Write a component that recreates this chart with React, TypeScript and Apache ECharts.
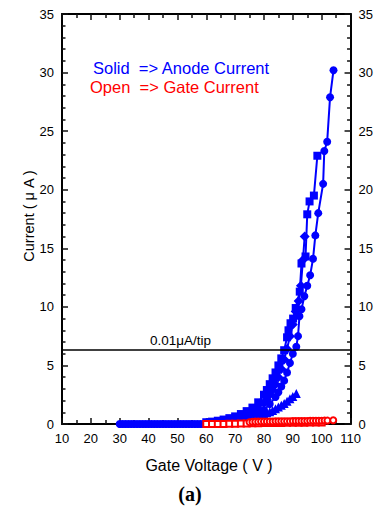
import React, { useEffect, useRef } from "react";
import * as echarts from "echarts";

// Anode current (solid markers), μA vs gate voltage (V)
const circleV = [30, 31, 32, 33, 34, 35, 36, 37, 38, 39, 40, 41, 42, 43, 44, 45, 46, 47, 48, 49, 50, 51, 52, 53, 54, 55, 56, 57, 58, 59, 60, 62, 64, 66, 68, 70, 72, 74, 76, 78, 80, 82, 84, 85, 86, 87, 88, 89, 90, 91.2, 91.8, 92.3, 93, 94, 95, 96, 97, 97.8, 98.8, 100.5, 100.9, 101.9, 102.9, 104.1];
const circleI = [0, 0, 0, 0, 0, 0, 0, 0, 0, 0, 0, 0, 0, 0, 0, 0, 0, 0, 0, 0, 0, 0, 0, 0, 0, 0, 0, 0, 0, 0, 0.03, 0.05, 0.08, 0.12, 0.17, 0.24, 0.34, 0.46, 0.64, 0.88, 1.2, 1.7, 2.3, 2.7, 3.2, 3.7, 4.4, 5.2, 6.0, 6.6, 7.5, 9.2, 9.8, 10.9, 11.8, 12.7, 14.1, 16.1, 18.0, 20.5, 23.3, 24.1, 27.9, 30.2];

const squareV = [60, 62, 64, 66, 68, 70, 72, 74, 76, 78, 80, 81, 82, 83, 84, 85, 86, 87, 88, 88.5, 89.2, 90.1, 91, 92.4, 93.0, 94.4, 95.0, 95.8, 97.3, 98.5];
const squareI = [0.15, 0.2, 0.28, 0.38, 0.5, 0.65, 0.85, 1.1, 1.4, 1.85, 2.5, 2.9, 3.4, 3.9, 4.4, 5.0, 5.6, 6.3, 7.4, 8.0, 8.6, 9.0, 9.9, 11.3, 13.7, 14.3, 17.9, 19.0, 19.5, 22.9];

const diamondV = [60, 62, 64, 66, 68, 70, 72, 74, 76, 78, 80, 81, 82, 83, 84, 85, 86, 87, 88, 89, 90, 91, 92, 92.8, 93.5, 94.1];
const diamondI = [0.08, 0.11, 0.16, 0.22, 0.3, 0.4, 0.54, 0.72, 0.96, 1.3, 1.8, 2.1, 2.5, 2.9, 3.4, 4.0, 4.7, 5.5, 6.4, 7.5, 8.5, 9.6, 10.5, 11.8, 14.0, 16.0];

const triangleV = [72, 74, 76, 77.6, 79, 80, 81, 82, 83, 84, 85, 86, 87, 88, 89, 90, 91.2];
const triangleI = [0.2, 0.3, 0.45, 0.6, 0.75, 0.85, 0.95, 1.05, 1.15, 1.3, 1.45, 1.6, 1.75, 1.95, 2.15, 2.35, 2.6];

// Gate current (open markers), μA
const gateCircleV = [75, 76, 77, 78, 79, 80, 81, 82, 83, 84, 85, 86, 87, 88, 89, 90, 91, 92, 93, 94, 95, 96, 97, 98, 99, 100, 101, 102, 104];
const gateCircleI = [0.15, 0.18, 0.2, 0.2, 0.21, 0.21, 0.22, 0.22, 0.22, 0.23, 0.23, 0.23, 0.24, 0.24, 0.24, 0.25, 0.25, 0.25, 0.26, 0.26, 0.26, 0.27, 0.27, 0.27, 0.28, 0.28, 0.29, 0.29, 0.32];
const gateSquareV = [60, 62, 64, 66, 68, 70, 72, 74, 76, 78, 80, 82, 84, 86, 88, 90, 92, 94, 96, 98, 100];
const gateSquareI = [0, 0, 0.01, 0.01, 0.02, 0.03, 0.04, 0.05, 0.06, 0.07, 0.08, 0.08, 0.09, 0.09, 0.1, 0.1, 0.11, 0.11, 0.12, 0.12, 0.13];

const thresholdI = 6.3;

const pairs = (xs: number[], ys: number[]) => xs.map((x, i) => [x, ys[i]]);

const BLUE = "#0000ff";
const RED = "#ff0000";
const INK = "#111111";
const FONT = "Liberation Sans";

const makeX = (position: "top" | "bottom", showLabel: boolean) => ({
  type: "value",
  position,
  min: 10,
  max: 110,
  interval: 10,
  axisLine: { show: true, onZero: false, lineStyle: { color: "#000", width: 2 } },
  axisTick: { show: true, inside: true, length: 6, lineStyle: { color: INK, width: 1.5 } },
  minorTick: { show: true, splitNumber: 2, length: 4, lineStyle: { color: INK, width: 1.5 } },
  splitLine: { show: false },
  axisLabel: showLabel ? { show: true, color: "#000", fontSize: 13, fontFamily: FONT } : { show: false },
});

const makeY = (position: "left" | "right") => ({
  type: "value",
  position,
  min: 0,
  max: 35,
  interval: 5,
  axisLine: { show: true, onZero: false, lineStyle: { color: "#000", width: 2 } },
  axisTick: { show: true, inside: true, length: 6, lineStyle: { color: INK, width: 1.5 } },
  minorTick: { show: true, splitNumber: 5, length: 3.5, lineStyle: { color: INK, width: 1.5 } },
  splitLine: { show: false },
  axisLabel: { show: true, color: "#000", fontSize: 13, fontFamily: FONT },
});

export default function App() {
  const ref = useRef<HTMLDivElement>(null);
  useEffect(() => {
    if (!ref.current) return;
    const chart = echarts.init(ref.current, null, { renderer: "svg" });
    const blueSeries = (data: number[][], symbol: string, size: number) => ({
      type: "line",
      data,
      symbol,
      symbolSize: size,
      lineStyle: { color: BLUE, width: 2 },
      itemStyle: { color: BLUE },
    });
    const redSeries = (data: number[][], symbol: string) => ({
      type: "line",
      data,
      symbol,
      symbolSize: 6,
      lineStyle: { color: RED, width: 1.5 },
      itemStyle: { color: RED, borderWidth: 1.3 },
    });
    chart.setOption({
      animation: false,
      backgroundColor: "#fff",
      grid: { left: 62, right: 21, top: 14, bottom: 85 },
      xAxis: [makeX("bottom", true), makeX("top", false)],
      yAxis: [makeY("left"), makeY("right")],
      series: [
        blueSeries(pairs(circleV, circleI), "circle", 8),
        blueSeries(pairs(squareV, squareI), "rect", 8),
        blueSeries(pairs(diamondV, diamondI), "diamond", 10),
        blueSeries(pairs(triangleV, triangleI), "triangle", 9),
        redSeries(pairs(gateSquareV, gateSquareI), "emptyRect"),
        redSeries(pairs(gateCircleV, gateCircleI), "emptyCircle"),
        {
          type: "line",
          data: [],
          markLine: {
            silent: true,
            symbol: "none",
            label: { show: false },
            lineStyle: { color: "#000", width: 1.5, type: "solid" },
            data: [{ yAxis: thresholdI }],
          },
        },
      ],
      graphic: [
        {
          type: "text",
          x: 93,
          y: 68,
          style: { text: "Solid  => Anode Current", fill: BLUE, fontSize: 16.5, fontFamily: FONT, verticalAlign: "middle" },
        },
        {
          type: "text",
          x: 90,
          y: 87,
          style: { text: "Open  => Gate Current", fill: RED, fontSize: 16.5, fontFamily: FONT, verticalAlign: "middle" },
        },
        {
          type: "text",
          x: 150,
          y: 340,
          style: { text: "0.01μA/tip", fill: "#000", fontSize: 13.5, fontFamily: FONT, verticalAlign: "middle" },
        },
        {
          type: "text",
          x: 29,
          y: 216,
          rotation: Math.PI / 2,
          style: {
            text: "Current ( μ A )",
            fill: "#000",
            fontSize: 14.5,
            fontFamily: FONT,
            align: "center",
            verticalAlign: "middle",
          },
        },
        {
          type: "text",
          x: 209,
          y: 465,
          style: {
            text: "Gate Voltage ( V )",
            fill: "#000",
            fontSize: 16,
            fontFamily: FONT,
            align: "center",
            verticalAlign: "middle",
          },
        },
        {
          type: "text",
          x: 190,
          y: 494,
          style: {
            text: "(a)",
            fill: "#000",
            fontSize: 20,
            fontWeight: "bold",
            fontFamily: "Liberation Serif",
            align: "center",
            verticalAlign: "middle",
          },
        },
      ],
    });
    return () => chart.dispose();
  }, []);
  return (
    <div
      ref={ref}
      style={{ position: "fixed", left: 0, top: 0, width: 376, height: 509, background: "#fff" }}
    />
  );
}
